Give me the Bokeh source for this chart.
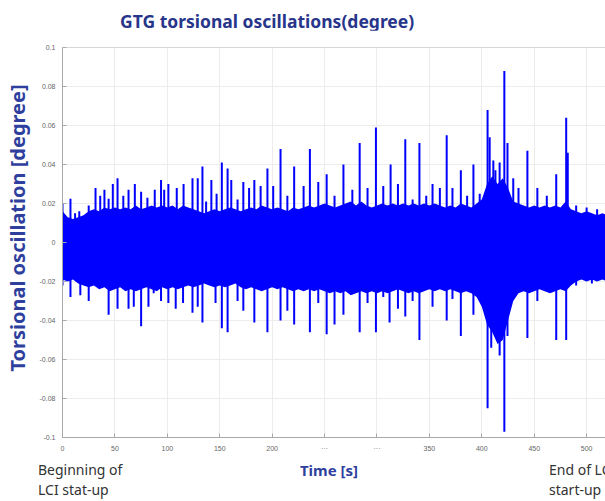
from bokeh.plotting import figure
from bokeh.models import Span, FixedTicker, Range1d, Div
from bokeh.layouts import column, row
from bokeh.embed import file_html
from bokeh.resources import INLINE

# ---------------- data ----------------
band_t = list(range(0, 525, 5))
band_hi = [0.016, 0.013, 0.012, 0.013, 0.014, 0.016, 0.017, 0.016, 0.018, 0.017,
           0.018, 0.017, 0.018, 0.017, 0.019, 0.017, 0.018, 0.019, 0.018, 0.019,
           0.018, 0.019, 0.017, 0.019, 0.018, 0.017, 0.016, 0.015, 0.016, 0.017,
           0.016, 0.017, 0.018, 0.017, 0.016, 0.017, 0.018, 0.017, 0.019, 0.018,
           0.017, 0.018, 0.017, 0.016, 0.018, 0.017, 0.018, 0.019, 0.018, 0.019,
           0.020, 0.019, 0.018, 0.019, 0.020, 0.021, 0.019, 0.021, 0.019, 0.018,
           0.019, 0.020, 0.019, 0.020, 0.019, 0.020, 0.019, 0.020, 0.019, 0.020,
           0.019, 0.020, 0.019, 0.018, 0.019, 0.018, 0.020, 0.019, 0.018, 0.020,
           0.022, 0.030, 0.034, 0.030, 0.033, 0.028, 0.021, 0.020, 0.019, 0.018,
           0.019, 0.018, 0.019, 0.018, 0.019, 0.018, 0.021, 0.017, 0.016, 0.015,
           0.016, 0.015, 0.014, 0.015, 0.014]
band_lo = [-0.019, -0.020, -0.019, -0.021, -0.022, -0.023, -0.022, -0.024, -0.023, -0.025,
           -0.024, -0.023, -0.025, -0.024, -0.025, -0.024, -0.023, -0.024, -0.025, -0.023,
           -0.024, -0.023, -0.024, -0.023, -0.022, -0.023, -0.022, -0.021, -0.022, -0.023,
           -0.022, -0.023, -0.022, -0.021, -0.023, -0.024, -0.023, -0.024, -0.025, -0.024,
           -0.023, -0.024, -0.023, -0.024, -0.025, -0.024, -0.025, -0.024, -0.025, -0.024,
           -0.025, -0.026, -0.025, -0.026, -0.025, -0.027, -0.026, -0.025, -0.026, -0.025,
           -0.026, -0.025, -0.026, -0.025, -0.024, -0.025, -0.026, -0.025, -0.026, -0.025,
           -0.024, -0.025, -0.024, -0.025, -0.024, -0.025, -0.026, -0.025, -0.026, -0.028,
           -0.033, -0.042, -0.046, -0.052, -0.050, -0.040, -0.030, -0.026, -0.025, -0.026,
           -0.025, -0.024, -0.025, -0.026, -0.025, -0.024, -0.025, -0.022, -0.020, -0.019,
           -0.020, -0.019, -0.020, -0.019, -0.020]

up_t = [0, 7.6, 12, 16, 25, 31.5, 36, 40, 44, 48, 52.5, 58, 63, 69, 75, 81, 88, 94, 97, 101,
        109, 115.5, 124, 129, 133.5, 137, 142, 147, 152, 157.5, 161, 167, 172.5, 178, 183, 189,
        195.5, 201, 208, 214.5, 221, 230, 236, 244, 252, 259.5, 268, 276.5, 283.5, 291, 299,
        306, 313, 320, 327, 334, 340.5, 347, 353, 360, 366.5, 372, 380, 386, 392, 398, 405.5,
        407.5, 411, 413, 417, 421.5, 424.5, 430, 435, 443.5, 453, 462, 471, 480.5, 482, 490,
        500, 510]
up_v = [0.020, 0.0225, 0.015, 0.016, 0.019, 0.028, 0.024, 0.027, 0.0225, 0.030, 0.033, 0.024,
        0.027, 0.030, 0.026, 0.023, 0.027, 0.032, 0.027, 0.030, 0.028, 0.030, 0.033, 0.033,
        0.039, 0.021, 0.032, 0.025, 0.041, 0.038, 0.032, 0.022, 0.031, 0.028, 0.032, 0.029,
        0.038, 0.029, 0.048, 0.024, 0.039, 0.029, 0.048, 0.031, 0.035, 0.024, 0.040, 0.027,
        0.051, 0.028, 0.059, 0.029, 0.040, 0.030, 0.053, 0.022, 0.051, 0.024, 0.030, 0.028,
        0.055, 0.028, 0.037, 0.024, 0.040, 0.025, 0.068, 0.054, 0.042, 0.037, 0.041, 0.088,
        0.051, 0.033, 0.028, 0.047, 0.028, 0.024, 0.035, 0.064, 0.046, 0.019, 0.018, 0.017]

dn_t = [0, 7.6, 17, 25, 44, 52.5, 63, 68, 75, 82, 87, 94, 101, 108, 115, 124, 129, 133.5, 146,
        152, 157.5, 167, 172.5, 183, 195.5, 208, 214.5, 221, 236, 244, 252, 259.5, 268, 283.5,
        291, 299, 306, 312, 320, 327, 334, 340.5, 353, 366.5, 372, 380, 392, 405.5, 409, 417,
        421.5, 424.5, 443.5, 453, 471, 480.5, 490, 505]
dn_v = [-0.022, -0.028, -0.027, -0.030, -0.037, -0.034, -0.034, -0.033, -0.043, -0.033, -0.026,
        -0.030, -0.031, -0.034, -0.031, -0.036, -0.033, -0.041, -0.031, -0.044, -0.046, -0.030,
        -0.035, -0.041, -0.046, -0.040, -0.035, -0.042, -0.046, -0.031, -0.047, -0.042, -0.037,
        -0.046, -0.031, -0.046, -0.028, -0.041, -0.034, -0.038, -0.030, -0.050, -0.033, -0.040,
        -0.029, -0.048, -0.037, -0.085, -0.054, -0.058, -0.097, -0.048, -0.049, -0.030, -0.050,
        -0.050, -0.022, -0.021]

x_ticks = [0, 50, 100, 150, 200, 250, 300, 350, 400, 450, 500]
x_tick_labels = ["0", "50", "100", "150", "200", "···", "···", "350", "400", "450", "500"]
y_ticks = [-0.1, -0.08, -0.06, -0.04, -0.02, 0, 0.02, 0.04, 0.06, 0.08, 0.1]
y_tick_labels = ["-0.1", "-0.08", "-0.06", "-0.04", "-0.02", "0", "0.02", "0.04", "0.06", "0.08", "0.1"]

title_text = "GTG torsional oscillations(degree)"
y_label_text = "Torsional oscillation [degree]"
x_label_text = "Time [s]"
start_note = ["Beginning of", "LCI stat-up"]
end_note = ["End of LCI", "start-up"]

# ---------------- layout sizes ----------------
X0, X1 = 0, 518
Y0, Y1 = -0.1, 0.1
W = 605
LW = 30                      # strip holding the vertical axis title
H_TITLE, H_MAIN, H_NOTE = 30, 425, 46

NAVY = "#27358a"
LBL = "#2f3f9e"
BLUE = "#0000ff"
FONT = "Noto Sans"

# ---------------- main figure ----------------
p = figure(width=W - LW, height=H_MAIN, output_backend="svg", toolbar_location=None, title=None,
           x_range=Range1d(X0, X1), y_range=Range1d(Y0, Y1),
           min_border_left=62 - LW, min_border_top=47 - H_TITLE, min_border_bottom=18,
           min_border_right=0)
p.outline_line_color = None
p.background_fill_color = "white"
p.border_fill_color = "white"

p.varea(x=band_t, y1=band_lo, y2=band_hi, fill_color=BLUE, fill_alpha=1.0)
p.segment(x0=up_t, y0=[0] * len(up_t), x1=up_t, y1=up_v, line_color=BLUE, line_width=2)
p.segment(x0=dn_t, y0=[0] * len(dn_t), x1=dn_t, y1=dn_v, line_color=BLUE, line_width=2)

p.add_layout(Span(location=Y1, dimension="width", line_color="#b0b0b0", line_width=1))

for ax, ticks, labels in ((p.xaxis[0], x_ticks, x_tick_labels), (p.yaxis[0], y_ticks, y_tick_labels)):
    ax.ticker = FixedTicker(ticks=ticks)
    ax.major_label_overrides = {t: s for t, s in zip(ticks, labels)}
    ax.axis_line_color = "#a8a8a8"
    ax.major_tick_line_color = "#a8a8a8"
    ax.major_tick_in = 4
    ax.major_tick_out = 0
    ax.minor_tick_line_color = None
    ax.major_label_text_font = "Liberation Sans"
    ax.major_label_text_font_size = "7px"
    ax.major_label_text_color = "#666666"
    ax.major_label_standoff = 7

p.xgrid.ticker = FixedTicker(ticks=x_ticks)
p.ygrid.ticker = FixedTicker(ticks=y_ticks)
p.grid.grid_line_color = "#ececec"

# ---------------- chart title (HTML text) ----------------
title_html = (
    f'<div style="position:relative;width:{W}px;height:{H_TITLE}px;">'
    f'<span style="position:absolute;left:120px;top:9px;line-height:24px;white-space:nowrap;'
    f'font-family:\'{FONT}\';font-weight:bold;font-size:17.5px;color:{NAVY};">{title_text}</span></div>'
)
title_div = Div(text=title_html, width=W, height=H_TITLE, margin=0)

# ---------------- vertical axis title (HTML text) ----------------
ylab_html = (
    f'<div style="position:relative;width:{LW}px;height:{H_MAIN}px;">'
    f'<span style="position:absolute;left:18px;top:{228 - H_TITLE}px;'
    f'transform:translate(-50%,-50%) rotate(-90deg);'
    f'white-space:nowrap;font-family:\'{FONT}\';font-weight:bold;font-size:20px;color:{LBL};">'
    f'{y_label_text}</span></div>'
)
ylab = Div(text=ylab_html, width=LW, height=H_MAIN, margin=0)

# ---------------- note strip under the axis (HTML text) ----------------
span_css = "position:absolute;top:5px;line-height:20px;white-space:nowrap;"
notes_html = (
    f'<div style="position:relative;width:{W}px;height:{H_NOTE}px;overflow:hidden;'
    f'font-family:\'{FONT}\';">'
    f'<span style="{span_css}left:38px;font-size:14px;color:#333333;">'
    f'{start_note[0]}<br>{start_note[1]}</span>'
    f'<span style="{span_css}left:329px;transform:translateX(-50%);font-size:15px;'
    f'font-weight:bold;color:{LBL};">{x_label_text}</span>'
    f'<span style="{span_css}left:549px;font-size:14px;color:#333333;">'
    f'{end_note[0]}<br>{end_note[1]}</span>'
    '</div>'
)
notes = Div(text=notes_html, width=W, height=H_NOTE, margin=0, styles={"overflow": "hidden"})

layout = column(title_div, row(ylab, p, spacing=0), notes, spacing=0)
open("out.html", "w").write(file_html(layout, INLINE))
